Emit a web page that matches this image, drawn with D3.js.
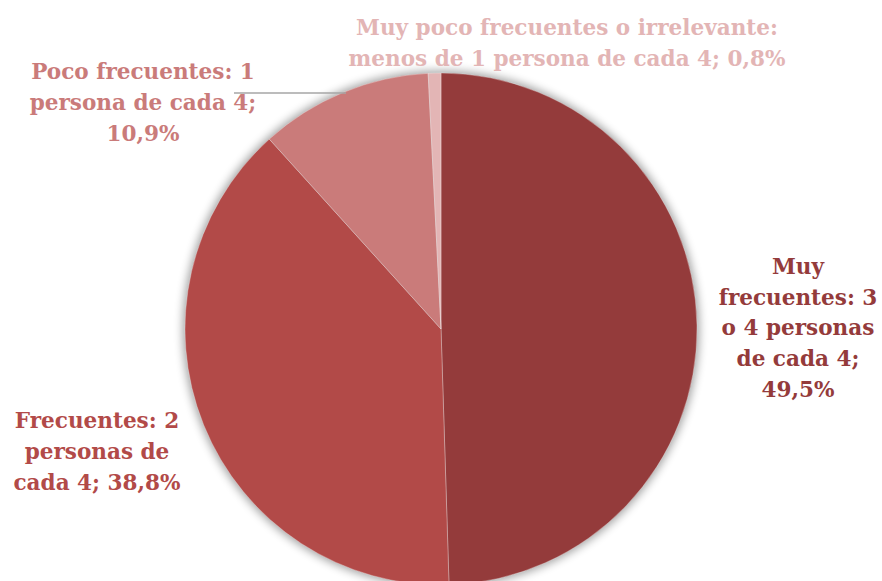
<!DOCTYPE html>
<html><head><meta charset="utf-8">
<script src="https://cdn.jsdelivr.net/npm/d3@7"></script>
<style>html,body{margin:0;padding:0;background:#fff;}svg{display:block;}</style>
</head><body>
<svg id="c" width="882" height="581"></svg>
<script>
const categories = ["Muy frecuentes", "Frecuentes", "Poco frecuentes", "Muy poco frecuentes"];
const values = [49.5, 38.8, 10.9, 0.8];
const colors = ["#943B3B", "#B24A48", "#CA7B7A", "#E3B5B5"];
const labelLines = [
  ["Muy", "frecuentes: 3", "o 4 personas", "de cada 4;", "49,5%"],
  ["Frecuentes: 2", "personas de", "cada 4; 38,8%"],
  ["Poco frecuentes: 1", "persona de cada 4;", "10,9%"],
  ["Muy poco frecuentes o irrelevante:", "menos de 1 persona de cada 4; 0,8%"]
];
const labelAnchors = [[798, 274], [97, 428], [143, 79], [567, 35]];

const svg = d3.select("#c");
const cx = 441, cy = 329, r = 256;
const defs = svg.append("defs");
const f = defs.append("filter").attr("id","sh").attr("x","-20%").attr("y","-20%").attr("width","140%").attr("height","140%");
f.append("feGaussianBlur").attr("stdDeviation", 5);

const g = svg.append("g").attr("transform", `translate(${cx},${cy})`);
g.append("circle").attr("r", r + 2).attr("fill", "#000").attr("opacity", 0.38).attr("filter", "url(#sh)");

const pie = d3.pie().sort(null).value(d => d)(values);
const arc = d3.arc().innerRadius(0).outerRadius(r);
g.selectAll("path.s").data(pie).enter().append("path")
  .attr("class","s").attr("d", arc)
  .attr("fill", (d,i) => colors[i])
  .attr("stroke", "#fff").attr("stroke-width", 0.5).attr("stroke-opacity", 0.6);

// leader line for "Poco frecuentes"
svg.append("line").attr("x1", 234).attr("y1", 93).attr("x2", 346).attr("y2", 93)
  .attr("stroke", "#A6A6A6").attr("stroke-width", 1.5);

const fontFamily = "'DejaVu Serif', 'Liberation Serif', serif";
// size font so the widest line matches the reference width
const probe = svg.append("text").attr("font-family", fontFamily).attr("font-weight","bold")
  .attr("font-size", 100).text(labelLines[3][0]);
const w100 = probe.node().getComputedTextLength();
probe.remove();
const fs = 100 * 422 / w100;
const lh = 31;

labelLines.forEach((lines, i) => {
  const t = svg.append("text").attr("font-family", fontFamily).attr("font-weight","bold")
    .attr("font-size", fs).attr("fill", colors[i]).attr("text-anchor","middle");
  lines.forEach((ln, k) => {
    t.append("tspan").attr("x", labelAnchors[i][0]).attr("y", labelAnchors[i][1] + k * (i === 0 ? 30.7 : lh)).text(ln);
  });
});
</script>
</body></html>
